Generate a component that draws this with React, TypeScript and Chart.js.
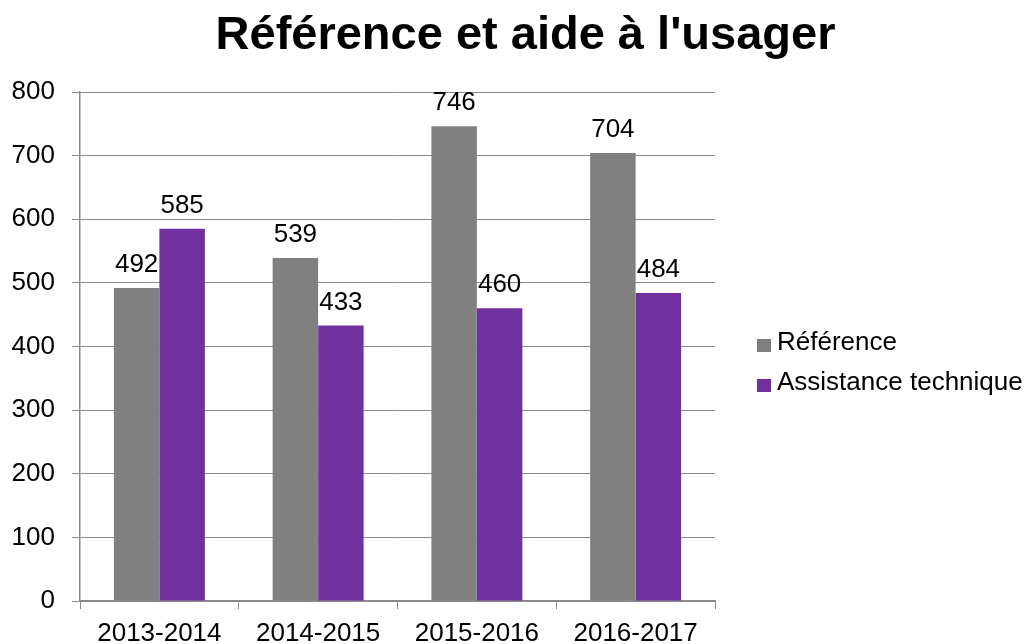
import React, { useEffect, useRef } from "react";
import { Chart, registerables } from "chart.js";

Chart.register(...registerables);

const TITLE = "Référence et aide à l'usager";
const categories = ["2013-2014", "2014-2015", "2015-2016", "2016-2017"];
const seriesNames = ["Référence", "Assistance technique"];
const referenceValues = [492, 539, 746, 704];
const assistanceValues = [585, 433, 460, 484];
const seriesColors = ["#808080", "#7030A0"];
const yMin = 0;
const yMax = 800;
const yStep = 100;

const FONT = "'Liberation Sans', Arial, sans-serif";
const GRID = "#8a8a8a";
const FS = 26;

const titlePlugin = {
  id: "customTitle",
  afterDraw(chart: any) {
    const ctx = chart.ctx;
    ctx.save();
    ctx.font = `bold 47px ${FONT}`;
    ctx.fillStyle = "#000";
    ctx.textAlign = "center";
    ctx.textBaseline = "alphabetic";
    ctx.fillText(TITLE, 525.5, 49);
    ctx.restore();
  },
};

const labelPlugin = {
  id: "valueLabels",
  afterDatasetsDraw(chart: any) {
    const ctx = chart.ctx;
    ctx.save();
    ctx.font = `${FS}px ${FONT}`;
    ctx.fillStyle = "#000";
    ctx.textAlign = "center";
    ctx.textBaseline = "alphabetic";
    chart.data.datasets.forEach((ds: any, i: number) => {
      const meta = chart.getDatasetMeta(i);
      meta.data.forEach((el: any, j: number) => {
        ctx.fillText(String(ds.data[j]), el.x, el.y - 16);
      });
    });
    ctx.restore();
  },
};

const legendPlugin = {
  id: "customLegend",
  afterDraw(chart: any) {
    const ctx = chart.ctx;
    ctx.save();
    ctx.font = `${FS}px ${FONT}`;
    ctx.textAlign = "left";
    ctx.textBaseline = "middle";
    const x0 = chart.chartArea.right + 42;
    const y0 = chart.chartArea.top + 253.5;
    const gap = 40;
    chart.data.datasets.forEach((ds: any, i: number) => {
      const y = y0 + i * gap;
      ctx.fillStyle = ds.backgroundColor;
      ctx.fillRect(x0, y - 6.5, 14, 13);
      ctx.fillStyle = "#000";
      ctx.fillText(ds.label, x0 + 20, y - 3);
    });
    ctx.restore();
  },
};

export default function App() {
  const ref = useRef<HTMLCanvasElement | null>(null);

  useEffect(() => {
    if (!ref.current) return;
    const chart = new Chart(ref.current, {
      type: "bar",
      data: {
        labels: categories,
        datasets: [
          { label: seriesNames[0], data: referenceValues, backgroundColor: seriesColors[0] },
          { label: seriesNames[1], data: assistanceValues, backgroundColor: seriesColors[1] },
        ],
      },
      options: {
        responsive: true,
        maintainAspectRatio: false,
        animation: false,
        layout: { padding: { left: 0, right: 316, top: 92, bottom: 0 } },
        datasets: { bar: { categoryPercentage: 0.573, barPercentage: 1 } },
        plugins: {
          legend: { display: false },
          title: { display: false },
          tooltip: { enabled: false },
        },
        scales: {
          x: {
            afterFit(scale: any) {
              scale.height = 43;
            },
            grid: {
              offset: true,
              drawOnChartArea: false,
              drawTicks: true,
              tickLength: 8,
              color: GRID,
              lineWidth: 1,
            },
            border: { color: GRID, width: 1.5 },
            ticks: {
              font: { family: FONT, size: FS },
              color: "#000",
              padding: 9,
              maxRotation: 0,
            },
          },
          y: {
            min: yMin,
            max: yMax,
            afterFit(scale: any) {
              scale.width = 80;
            },
            grid: {
              drawTicks: true,
              tickLength: 8,
              color: GRID,
              lineWidth: 1,
            },
            border: { color: GRID, width: 1.5 },
            ticks: {
              stepSize: yStep,
              font: { family: FONT, size: FS },
              color: "#000",
              padding: 17,
            },
          },
        },
      },
      plugins: [titlePlugin, labelPlugin, legendPlugin],
    });
    return () => chart.destroy();
  }, []);

  return (
    <div style={{ position: "fixed", left: 0, top: 0, width: 1031, height: 644, background: "#fff" }}>
      <canvas ref={ref} />
    </div>
  );
}
